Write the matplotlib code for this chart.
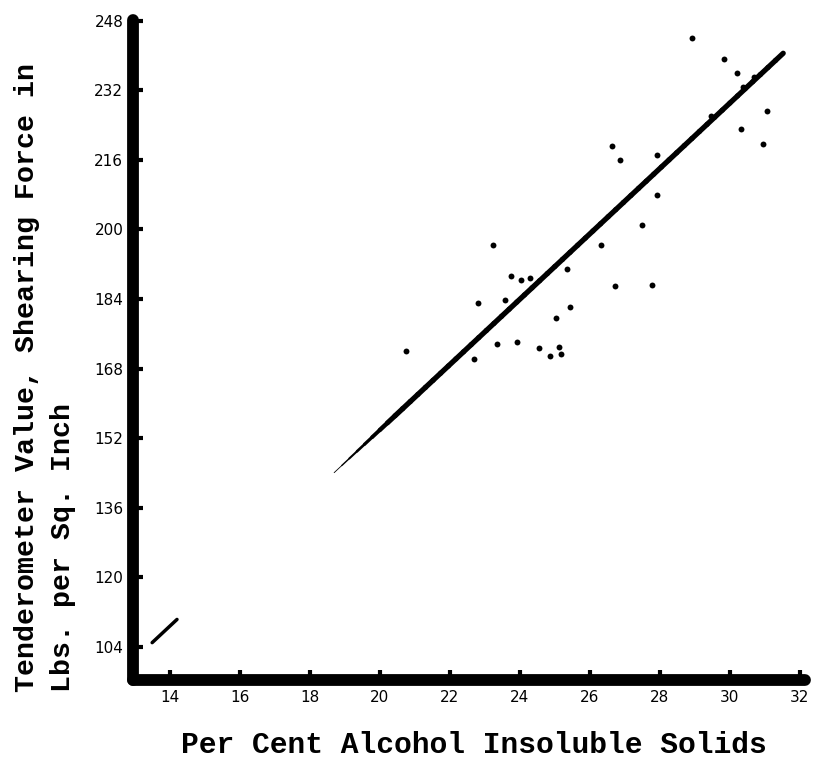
"""
Tenderometer shear value against per cent alcohol insoluble solids,
with the fitted regression line.
"""
import numpy as np
import matplotlib
matplotlib.use("Agg")
import matplotlib.pyplot as plt
from matplotlib.collections import LineCollection

# per cent alcohol insoluble solids
ais = [20.75, 22.69, 22.79, 23.22, 23.34, 23.58, 23.74, 23.91, 24.04, 24.29,
       24.54, 24.86, 25.03, 25.11, 25.16, 25.34, 25.42, 26.31, 26.63, 26.72,
       26.87, 27.49, 27.76, 27.91, 27.92, 28.91, 29.46, 29.84, 30.21, 30.31,
       30.38, 30.69, 30.95, 31.07]
# shearing force, lbs. per sq. inch
shear = [172.0, 170.3, 183.0, 196.3, 173.7, 183.8, 189.4, 174.1, 188.4, 188.8,
         172.7, 171.0, 179.6, 173.0, 171.3, 190.9, 182.2, 196.3, 219.2, 187.1,
         215.9, 201.0, 187.2, 217.0, 207.9, 243.9, 226.1, 239.1, 235.9, 223.1,
         232.7, 235.1, 219.6, 227.3]

# regression line y = a + b x
slope = 7.515
intercept = 3.62
line_lo = [13.49, 14.20]
line_hi = [18.69, 31.52]

xticks = [14, 16, 18, 20, 22, 24, 26, 28, 30, 32]
yticks = [104, 120, 136, 152, 168, 184, 200, 216, 232, 248]

fig = plt.figure(figsize=(8.13, 7.6), dpi=100)
ax = fig.add_axes([133 / 813, 80 / 760, 672 / 813, 660 / 760])
ax.set_xlim(12.943, 32.143)
ax.set_ylim(96.41, 248.14)

for side in ("top", "right"):
    ax.spines[side].set_visible(False)
for side in ("left", "bottom"):
    ax.spines[side].set_linewidth(8.5)
    ax.spines[side].set_capstyle("round")
    ax.spines[side].set_color("black")

ax.set_xticks(xticks)
ax.set_yticks(yticks)
# ticks point inward and poke out past the heavy axis line as small bumps
ax.tick_params(direction="in", length=7, width=3, color="black",
               labelsize=11, pad=7)

# points
ax.scatter(ais, shear, s=18, color="black", zorder=3, linewidths=0)

# fitted line: short piece near the origin, then the main run that thickens
xa = np.array(line_lo)
ax.plot(xa, intercept + slope * xa, color="black", lw=2.5, solid_capstyle="round")

xs = np.linspace(line_hi[0], line_hi[1], 60)
ys = intercept + slope * xs
pts = np.column_stack([xs, ys]).reshape(-1, 1, 2)
segs = np.concatenate([pts[:-1], pts[1:]], axis=1)
widths = np.clip(0.6 + (xs[:-1] - line_hi[0]) * 2.0, 0.6, 3.8)
ax.add_collection(LineCollection(segs, linewidths=widths, colors="black",
                                 capstyle="round"))

mono = dict(family="Liberation Mono", fontweight="bold")
fig.text(474 / 813, 1 - 745 / 760, "Per Cent Alcohol Insoluble Solids",
         ha="center", va="center", fontsize=21.3, **mono)
fig.text(27 / 813, 1 - 692 / 760, "Tenderometer Value, Shearing Force in",
         rotation=90, ha="center", va="bottom", fontsize=20.3, **mono)
fig.text(63 / 813, 1 - 692 / 760, "Lbs. per Sq. Inch",
         rotation=90, ha="center", va="bottom", fontsize=20.3, **mono)

fig.savefig("out.png", dpi=100)
